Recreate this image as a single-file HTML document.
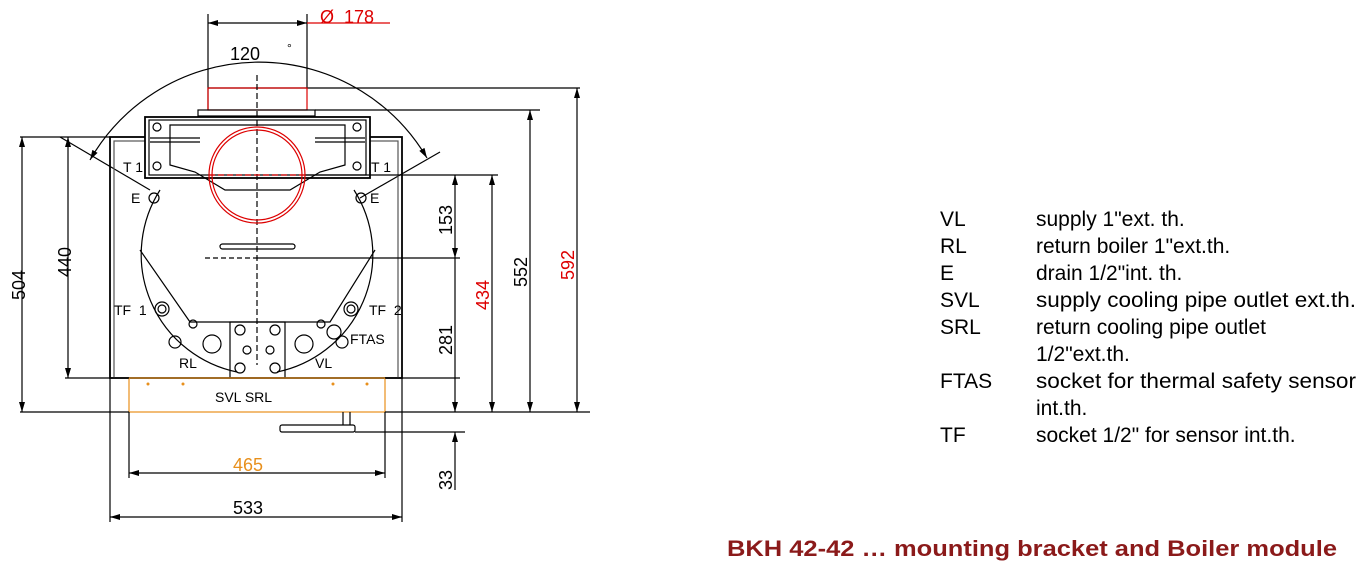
<!DOCTYPE html>
<html><head><meta charset="utf-8"><style>
html,body{margin:0;padding:0;background:#fff;}
svg{display:block;font-family:"Liberation Sans",Arial,sans-serif;}
</style></head><body>
<svg width="1366" height="568" viewBox="0 0 1366 568" xmlns="http://www.w3.org/2000/svg">
<defs>
<marker id="a" viewBox="0 0 10 6" refX="10" refY="3" markerWidth="12" markerHeight="6" orient="auto-start-reverse" markerUnits="userSpaceOnUse"><path d="M0,0 L10,3 L0,6 z" fill="#000"/></marker>
</defs>
<g stroke="#000" stroke-width="1.2" fill="none">
<line x1="208" y1="14" x2="208" y2="110"/>
<line x1="307" y1="14" x2="307" y2="88"/>
<line x1="208" y1="23" x2="307" y2="23" marker-start="url(#a)" marker-end="url(#a)"/>
<line x1="307" y1="23" x2="390" y2="23" stroke="#d00"/>
<path d="M90,160 A195,195 0 0 1 427,158" marker-start="url(#a)" marker-end="url(#a)"/>
<line x1="60" y1="137" x2="150" y2="190"/>
<line x1="440" y1="152" x2="360" y2="198"/>
<line x1="208" y1="88" x2="580" y2="88" stroke="#000"/>
<rect x="208" y="88" width="99" height="22" stroke="#d00"/>
<rect x="198" y="110" width="117" height="6"/>
<line x1="315" y1="110" x2="540" y2="110"/>
<rect x="110" y="137" width="292" height="241" stroke-width="1.8"/>
<rect x="114" y="141" width="284" height="237" stroke="#555"/>
<line x1="20" y1="137" x2="110" y2="137"/>
<rect x="145" y="117" width="225" height="61" fill="#fff" stroke-width="1.8"/>
<rect x="149" y="120" width="217" height="55"/>
<path d="M170,125 L345,125 L345,165 L320,172 L290,190 L225,190 L195,172 L170,165 Z"/>
<line x1="150" y1="138" x2="200" y2="138"/><line x1="150" y1="142" x2="200" y2="142"/>
<line x1="315" y1="138" x2="365" y2="138"/><line x1="315" y1="142" x2="365" y2="142"/>
<circle cx="157" cy="127" r="4"/><circle cx="357" cy="127" r="4"/>
<circle cx="157" cy="166" r="4"/><circle cx="357" cy="166" r="4"/>
<path d="M160,190 A120,120 0 0 0 237,372 M277,372 A120,120 0 0 0 354,190"/>
<path d="M140,250 L190,322 L330,322 L375,250"/>
<rect x="230" y="322" width="55" height="56"/>
<circle cx="240" cy="330" r="5"/><circle cx="275" cy="330" r="5"/>
<circle cx="240" cy="368" r="5"/><circle cx="275" cy="368" r="5"/>
<circle cx="247" cy="350" r="4"/><circle cx="270" cy="350" r="4"/>
<circle cx="212" cy="344" r="9"/><circle cx="304" cy="344" r="9"/>
<circle cx="162" cy="309" r="7"/><circle cx="162" cy="309" r="4"/>
<circle cx="351" cy="309" r="7"/><circle cx="351" cy="309" r="4"/>
<circle cx="334" cy="332" r="7"/><circle cx="175" cy="342" r="6"/><circle cx="342" cy="342" r="6"/>
<circle cx="193" cy="324" r="4"/><circle cx="321" cy="324" r="4"/>
<circle cx="154" cy="198" r="5"/><circle cx="361" cy="198" r="5"/>
<rect x="220" y="244" width="75" height="5" rx="2.5"/>
<line x1="257" y1="75" x2="257" y2="365" stroke-dasharray="6,3"/>
<line x1="205" y1="258" x2="257" y2="258" stroke-dasharray="5,3"/>
<line x1="257" y1="258" x2="460" y2="258"/>
<line x1="305" y1="175" x2="498" y2="175"/>
<circle cx="257" cy="175" r="48" stroke="#d00"/>
<circle cx="257" cy="175" r="45" stroke="#d00"/>
<line x1="209" y1="175" x2="305" y2="175" stroke="#d00" stroke-dasharray="6,3"/>
<rect x="129" y="378" width="256" height="34" stroke="#e8901c"/>
<line x1="65" y1="378" x2="129" y2="378"/>
<line x1="20" y1="412" x2="129" y2="412"/>
<line x1="385" y1="412" x2="590" y2="412"/>
<line x1="385" y1="378" x2="460" y2="378"/>
<line x1="343" y1="412" x2="343" y2="425"/><line x1="350" y1="412" x2="350" y2="425"/>
<rect x="280" y="425" width="75" height="7" rx="2"/>
<line x1="355" y1="432" x2="465" y2="432"/>
<line x1="22" y1="137" x2="22" y2="412" marker-start="url(#a)" marker-end="url(#a)"/>
<line x1="68" y1="137" x2="68" y2="378" marker-start="url(#a)" marker-end="url(#a)"/>
<line x1="455" y1="175" x2="455" y2="258" marker-start="url(#a)" marker-end="url(#a)"/>
<line x1="455" y1="258" x2="455" y2="412" marker-end="url(#a)"/>
<line x1="455" y1="432" x2="455" y2="490" marker-start="url(#a)"/>
<line x1="492" y1="175" x2="492" y2="412" marker-start="url(#a)" marker-end="url(#a)"/>
<line x1="530" y1="110" x2="530" y2="412" marker-start="url(#a)" marker-end="url(#a)"/>
<line x1="577" y1="88" x2="577" y2="412" marker-start="url(#a)" marker-end="url(#a)"/>
<line x1="110" y1="378" x2="110" y2="522"/><line x1="402" y1="378" x2="402" y2="522"/>
<line x1="129" y1="412" x2="129" y2="478"/><line x1="385" y1="412" x2="385" y2="478"/>
<line x1="129" y1="473" x2="385" y2="473" marker-start="url(#a)" marker-end="url(#a)"/>
<line x1="110" y1="517" x2="402" y2="517" marker-start="url(#a)" marker-end="url(#a)"/>
</g>
<g fill="#e8901c"><circle cx="148" cy="384" r="1.5"/><circle cx="183" cy="384" r="1.5"/><circle cx="333" cy="384" r="1.5"/><circle cx="367" cy="384" r="1.5"/></g>
<g font-size="18" fill="#000">
<text x="320" y="23" fill="#d00">Ø&#160;&#160;178</text>
<text x="230" y="60">120</text><text x="287" y="52" font-size="12">°</text>
<text x="123" y="172" font-size="14">T 1</text><text x="371" y="172" font-size="14">T 1</text>
<text x="131" y="203" font-size="14">E</text><text x="370" y="203" font-size="14">E</text>
<text x="114" y="315" font-size="14">TF&#160;&#160;1</text><text x="369" y="315" font-size="14">TF&#160;&#160;2</text>
<text x="350" y="344" font-size="14">FTAS</text>
<text x="179" y="368" font-size="14">RL</text><text x="315" y="368" font-size="14">VL</text>
<text x="215" y="402" font-size="14">SVL SRL</text>
<text x="233" y="471" fill="#e8901c">465</text>
<text x="233" y="514">533</text>
<text transform="translate(25,285) rotate(-90)" text-anchor="middle">504</text>
<text transform="translate(71,262) rotate(-90)" text-anchor="middle">440</text>
<text transform="translate(452,220) rotate(-90)" text-anchor="middle">153</text>
<text transform="translate(452,340) rotate(-90)" text-anchor="middle">281</text>
<text transform="translate(452,480) rotate(-90)" text-anchor="middle">33</text>
<text transform="translate(489,295) rotate(-90)" text-anchor="middle" fill="#d00">434</text>
<text transform="translate(527,272) rotate(-90)" text-anchor="middle">552</text>
<text transform="translate(574,265) rotate(-90)" text-anchor="middle" fill="#d00">592</text>
</g>
<g font-size="21" fill="#000">
<text x="940" y="226">VL</text><text x="1036" y="226">supply 1"ext. th.</text>
<text x="940" y="253">RL</text><text x="1036" y="253">return boiler 1"ext.th.</text>
<text x="940" y="280">E</text><text x="1036" y="280">drain 1/2"int. th.</text>
<text x="940" y="307">SVL</text><text x="1036" y="307" textLength="320" lengthAdjust="spacingAndGlyphs">supply cooling pipe outlet ext.th.</text>
<text x="940" y="334">SRL</text><text x="1036" y="334">return cooling pipe outlet</text>
<text x="1036" y="361">1/2"ext.th.</text>
<text x="940" y="388">FTAS</text><text x="1036" y="388" textLength="320" lengthAdjust="spacingAndGlyphs">socket for thermal safety sensor</text>
<text x="1036" y="415">int.th.</text>
<text x="940" y="442">TF</text><text x="1036" y="442">socket 1/2" for sensor int.th.</text>
</g>
<text x="727" y="556" font-size="22" font-weight="bold" fill="#8b1a1a" textLength="610" lengthAdjust="spacingAndGlyphs">BKH 42-42 … mounting bracket and  Boiler module</text>
</svg>
</body></html>
